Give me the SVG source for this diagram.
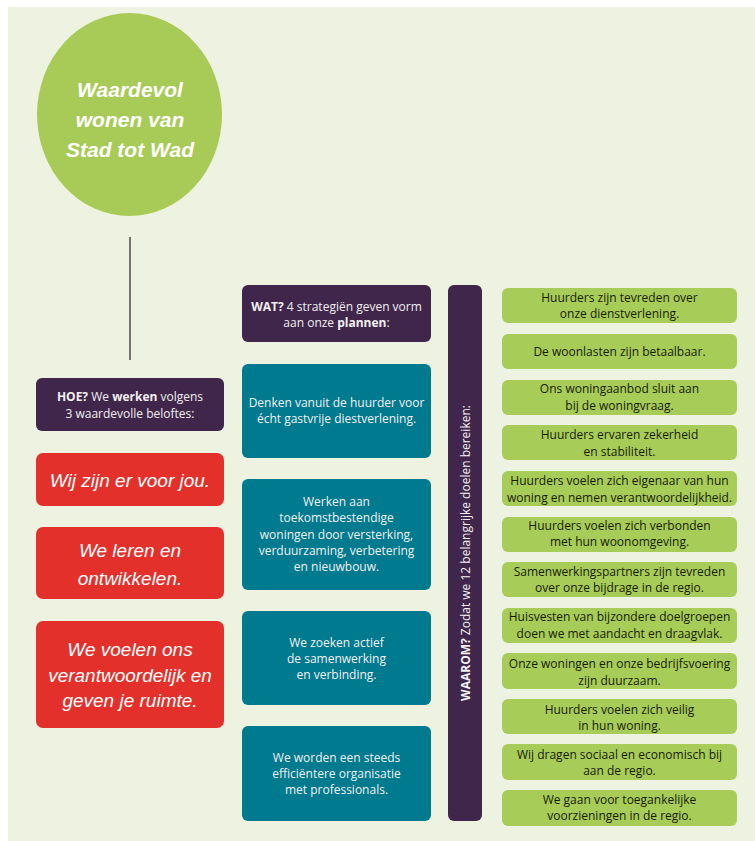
<svg xmlns="http://www.w3.org/2000/svg" width="755" height="841" viewBox="0 0 755 841">
<style>
.bg{fill:#EEF2E1}
.purple{fill:#40264A}
.red{fill:#E4302A}
.teal{fill:#007A8E}
.green{fill:#A7CC58}
.hand{font-family:"Liberation Sans",sans-serif;font-style:italic;fill:#fff;text-anchor:middle}
.w{font-family:"Open Sans","Liberation Sans",sans-serif;font-size:12px;fill:#F2F0F2;text-anchor:middle}
.g{font-family:"Open Sans","Liberation Sans",sans-serif;font-size:12px;fill:#171C0A;text-anchor:middle}
.b{font-weight:bold}
</style>
<rect class="bg" x="8" y="7" width="747" height="834"/>
<g id="connectors">
<line x1="130" y1="237" x2="130" y2="360" stroke="#2a1f2a" stroke-width="1.2"/>
</g>
<g id="circle">
<ellipse cx="129.5" cy="114.5" rx="92.5" ry="101.5" fill="#A8CB58"/>
<text class="hand" font-size="21" font-weight="bold"><tspan x="130" y="97">Waardevol</tspan><tspan x="130" y="127">wonen van</tspan><tspan x="130" y="157">Stad tot Wad</tspan></text>
</g>
<g id="hoe">
<rect class="purple" x="36" y="378" width="188" height="53" rx="6"/>
<text class="w" font-size="12.5"><tspan x="130" y="401"><tspan class="b">HOE?</tspan> We <tspan class="b">werken</tspan> volgens</tspan><tspan x="130" y="418">3 waardevolle beloftes:</tspan></text>
</g>
<g id="red1">
<rect class="red" x="36" y="453" width="188" height="53" rx="7"/>
<text class="hand" font-size="19"><tspan x="130" y="487">Wij zijn er voor jou.</tspan></text>
</g>
<g id="red2">
<rect class="red" x="36" y="527" width="188" height="72" rx="7"/>
<text class="hand" font-size="19"><tspan x="130" y="557">We leren en</tspan><tspan x="130" y="585">ontwikkelen.</tspan></text>
</g>
<g id="red3">
<rect class="red" x="36" y="621" width="188" height="107" rx="7"/>
<text class="hand" font-size="19"><tspan x="130" y="656">We voelen ons</tspan><tspan x="130" y="682">verantwoordelijk en</tspan><tspan x="130" y="707">geven je ruimte.</tspan></text>
</g>
<g id="wat">
<rect class="purple" x="242" y="285" width="189" height="57" rx="6"/>
<text class="w"><tspan x="336.5" y="311"><tspan class="b">WAT?</tspan> 4 strategiën geven vorm</tspan><tspan x="336.5" y="327">aan onze <tspan class="b">plannen</tspan>:</tspan></text>
</g>
<g id="teal1">
<rect class="teal" x="242" y="364" width="189" height="94" rx="6"/>
<text class="w"><tspan x="336.5" y="407">Denken vanuit de huurder voor</tspan><tspan x="336.5" y="423">écht gastvrije diestverlening.</tspan></text>
</g>
<g id="teal2">
<rect class="teal" x="242" y="479" width="189" height="111" rx="6"/>
<text class="w"><tspan x="336.5" y="506">Werken aan</tspan><tspan x="336.5" y="522">toekomstbestendige</tspan><tspan x="336.5" y="539">woningen door versterking,</tspan><tspan x="336.5" y="555">verduurzaming, verbetering</tspan><tspan x="336.5" y="571">en nieuwbouw.</tspan></text>
</g>
<g id="teal3">
<rect class="teal" x="242" y="611" width="189" height="94" rx="6"/>
<text class="w"><tspan x="336.5" y="647">We zoeken actief</tspan><tspan x="336.5" y="663">de samenwerking</tspan><tspan x="336.5" y="679">en verbinding.</tspan></text>
</g>
<g id="teal4">
<rect class="teal" x="242" y="726" width="189" height="95" rx="6"/>
<text class="w"><tspan x="336.5" y="762">We worden een steeds</tspan><tspan x="336.5" y="778">efficiëntere organisatie</tspan><tspan x="336.5" y="794">met professionals.</tspan></text>
</g>
<g id="waarom">
<rect class="purple" x="448" y="285" width="34" height="536" rx="6"/>
<text class="w" font-size="12.5" transform="translate(469.5,553) rotate(-90)" x="0" y="0"><tspan class="b">WAAROM?</tspan> Zodat we 12 belangrijke doelen bereiken:</text>
</g>
<g id="doel1"><rect class="green" x="502" y="288" width="235" height="35" rx="6"/><text class="g"><tspan x="619.5" y="302">Huurders zijn tevreden over</tspan><tspan x="619.5" y="318">onze dienstverlening.</tspan></text></g>
<g id="doel2"><rect class="green" x="502" y="334" width="235" height="35" rx="6"/><text class="g"><tspan x="619.5" y="356">De woonlasten zijn betaalbaar.</tspan></text></g>
<g id="doel3"><rect class="green" x="502" y="380" width="235" height="35" rx="6"/><text class="g"><tspan x="619.5" y="393">Ons woningaanbod sluit aan</tspan><tspan x="619.5" y="410">bij de woningvraag.</tspan></text></g>
<g id="doel4"><rect class="green" x="502" y="425" width="235" height="35" rx="6"/><text class="g"><tspan x="619.5" y="439">Huurders ervaren zekerheid</tspan><tspan x="619.5" y="456">en stabiliteit.</tspan></text></g>
<g id="doel5"><rect class="green" x="502" y="471" width="235" height="35" rx="6"/><text class="g"><tspan x="619.5" y="485">Huurders voelen zich eigenaar van hun</tspan><tspan x="619.5" y="502">woning en nemen verantwoordelijkheid.</tspan></text></g>
<g id="doel6"><rect class="green" x="502" y="517" width="235" height="35" rx="6"/><text class="g"><tspan x="619.5" y="530">Huurders voelen zich verbonden</tspan><tspan x="619.5" y="546">met hun woonomgeving.</tspan></text></g>
<g id="doel7"><rect class="green" x="502" y="562" width="235" height="35" rx="6"/><text class="g"><tspan x="619.5" y="576">Samenwerkingspartners zijn tevreden</tspan><tspan x="619.5" y="592">over onze bijdrage in de regio.</tspan></text></g>
<g id="doel8"><rect class="green" x="502" y="608" width="235" height="35" rx="6"/><text class="g"><tspan x="619.5" y="621">Huisvesten van bijzondere doelgroepen</tspan><tspan x="619.5" y="638">doen we met aandacht en draagvlak.</tspan></text></g>
<g id="doel9"><rect class="green" x="502" y="653" width="235" height="36" rx="6"/><text class="g"><tspan x="619.5" y="668">Onze woningen en onze bedrijfsvoering</tspan><tspan x="619.5" y="685">zijn duurzaam.</tspan></text></g>
<g id="doel10"><rect class="green" x="502" y="699" width="235" height="35" rx="6"/><text class="g"><tspan x="619.5" y="714">Huurders voelen zich veilig</tspan><tspan x="619.5" y="730">in hun woning.</tspan></text></g>
<g id="doel11"><rect class="green" x="502" y="744" width="235" height="36" rx="6"/><text class="g"><tspan x="619.5" y="759">Wij dragen sociaal en economisch bij</tspan><tspan x="619.5" y="775">aan de regio.</tspan></text></g>
<g id="doel12"><rect class="green" x="502" y="790" width="235" height="36" rx="6"/><text class="g"><tspan x="619.5" y="804">We gaan voor toegankelijke</tspan><tspan x="619.5" y="820">voorzieningen in de regio.</tspan></text></g>
</svg>
